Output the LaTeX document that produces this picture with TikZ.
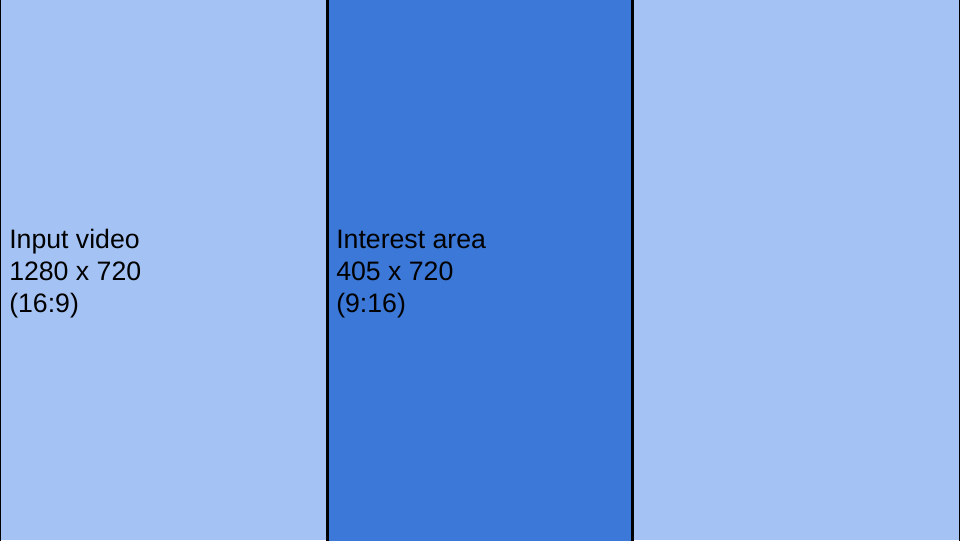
\documentclass[tikz,border=0pt]{standalone}
\usepackage{fontspec}
\setmainfont{Liberation Sans}
\definecolor{lightpanel}{HTML}{A4C2F4}
\definecolor{darkpanel}{HTML}{3C78D8}
\tikzset{
  panellabel/.style={anchor=base west, align=left, inner sep=0pt, font=\fontsize{20pt}{24pt}\selectfont, text=black},
  edge/.style={draw=black, line width=2.2pt}
}
\begin{document}
\begin{tikzpicture}[x=0.75pt, y=-0.75pt]
\useasboundingbox (0,0) rectangle (960,540);
\clip (0,0) rectangle (960,540);
\fill[lightpanel] (0,0) rectangle (960,540);
\draw[edge] (0,-10) -- (0,550);
\draw[edge] (960,-10) -- (960,550);
\fill[darkpanel] (327.5,-10) rectangle (632.5,550);
\draw[edge, line width=2.3pt] (327.5,-10) -- (327.5,550);
\draw[edge, line width=2.3pt] (632.5,-10) -- (632.5,550);
\node[panellabel] (input) at (9,312) {Input video\\1280 x 720\\(16:9)};
\node[panellabel] (interest) at (336,312) {Interest area\\405 x 720\\(9:16)};
\end{tikzpicture}
\end{document}
